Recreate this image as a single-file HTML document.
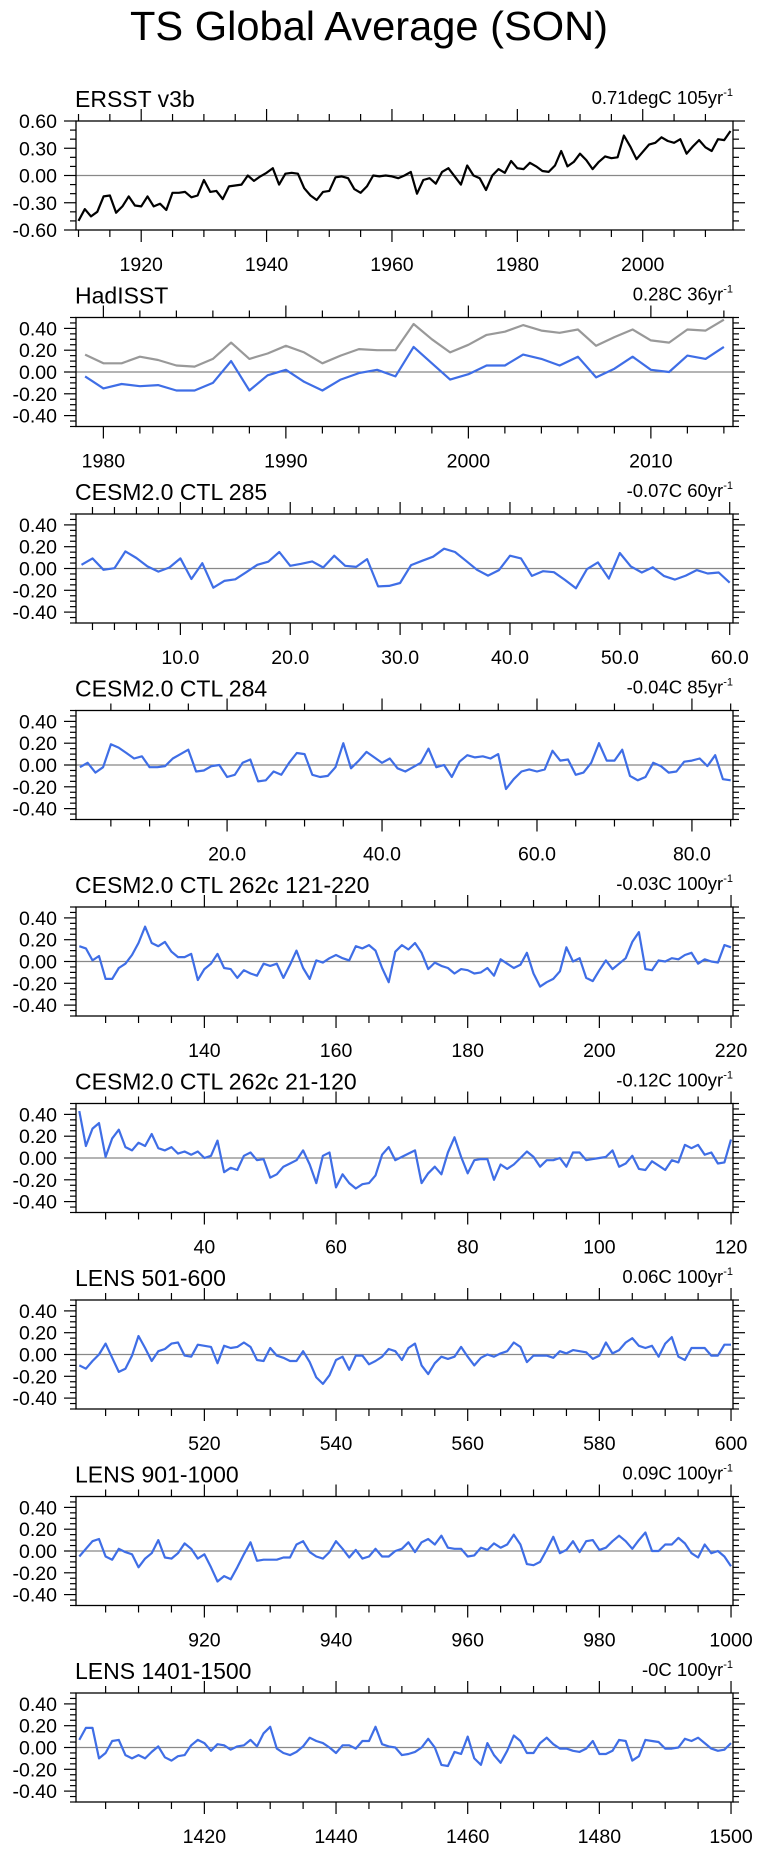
<!DOCTYPE html>
<html><head><meta charset="utf-8"><title>TS Global Average (SON)</title>
<style>
html,body{margin:0;padding:0;background:#fff;}
svg{display:block;font-family:"Liberation Sans",sans-serif;}
</style></head>
<body>
<svg id="chart" width="759" height="1852" viewBox="0 0 759 1852" xmlns="http://www.w3.org/2000/svg">
<text x="130" y="40" font-size="41" textLength="478" lengthAdjust="spacingAndGlyphs">TS Global Average (SON)</text>
</svg>
<script>
const ersstVals=[-.50,-.37,-.45,-.40,-.23,-.22,-.41,-.34,-.23,-.33,-.34,-.23,-.34,-.31,-.38,-.19,-.19,-.18,-.24,-.22,-.05,-.18,-.17,-.26,-.12,-.11,-.10,0,-.06,-.01,.03,.08,-.10,.02,.03,.02,-.14,-.22,-.27,-.18,-.17,-.02,-.01,-.03,-.15,-.19,-.12,0,-.01,0,-.01,-.03,0,.04,-.20,-.05,-.03,-.09,.04,.08,-.01,-.10,.11,0,-.03,-.16,0,.07,.03,.16,.08,.07,.14,.10,.05,.04,.11,.27,.10,.15,.24,.17,.07,.15,.21,.19,.20,.44,.32,.18,.26,.34,.36,.42,.38,.36,.40,.24,.32,.39,.31,.27,.40,.39,.49];
const hadGray=[.16,.08,.08,.14,.11,.06,.05,.12,.27,.12,.17,.24,.18,.08,.15,.21,.20,.20,.44,.30,.18,.25,.34,.37,.43,.38,.36,.39,.24,.32,.39,.29,.27,.39,.38,.48];
const hadBlue=[-.04,-.15,-.11,-.13,-.12,-.17,-.17,-.10,.10,-.17,-.03,.02,-.09,-.17,-.07,-.01,.02,-.04,.23,.08,-.07,-.02,.06,.06,.16,.12,.06,.14,-.05,.03,.14,.02,0,.15,.12,.23];
const ctl285=[.034,.093,-.012,.003,.157,.096,.019,-.028,.009,.093,-.096,.049,-.176,-.114,-.099,-.034,.034,.062,.151,.025,.043,.065,.009,.117,.025,.015,.086,-.164,-.160,-.133,.031,.071,.108,.182,.151,.071,-.012,-.065,-.015,.117,.093,-.068,-.025,-.034,-.105,-.182,-.006,.056,-.093,.142,.019,-.037,.012,-.068,-.102,-.065,-.015,-.046,-.037,-.130];
const ctl284=[-.02,.02,-.07,-.02,.19,.16,.11,.06,.08,-.02,-.02,-.01,.06,.10,.14,-.06,-.05,-.01,0,-.11,-.09,.02,.05,-.15,-.14,-.06,-.09,.02,.11,.10,-.09,-.11,-.10,-.02,.20,-.03,.04,.12,.07,.02,.06,-.03,-.06,-.02,.02,.15,-.02,0,-.11,.03,.09,.07,.08,.06,.10,-.22,-.13,-.06,-.04,-.06,-.04,.13,.04,.05,-.09,-.07,.02,.20,.04,.04,.14,-.10,-.14,-.11,.02,-.01,-.07,-.06,.03,.04,.06,-.01,.09,-.13,-.14];
const ctl262a=[.14,.12,.01,.05,-.16,-.16,-.06,-.02,.06,.17,.32,.17,.14,.18,.09,.04,.04,.07,-.17,-.07,-.02,.07,-.06,-.07,-.15,-.08,-.11,-.13,-.02,-.04,-.02,-.15,-.03,.10,-.06,-.16,.01,-.01,.03,.06,.03,.01,.14,.12,.15,.10,-.06,-.19,.09,.15,.11,.17,.08,-.07,-.01,-.04,-.06,-.11,-.07,-.08,-.11,-.10,-.06,-.13,.02,-.02,-.06,-.03,.08,-.11,-.23,-.19,-.16,-.09,.13,0,.03,-.15,-.18,-.08,.01,-.07,-.02,.03,.18,.27,-.07,-.08,.01,0,.03,.02,.06,.08,-.02,.02,0,-.01,.15,.13];
const ctl262b=[.43,.11,.27,.32,.01,.18,.26,.10,.07,.14,.11,.22,.09,.07,.10,.04,.06,.03,.06,0,.02,.16,-.13,-.09,-.11,.02,.05,-.02,-.01,-.18,-.15,-.08,-.05,-.02,.07,-.06,-.23,.02,.05,-.27,-.15,-.23,-.28,-.24,-.23,-.16,.03,.10,-.02,.01,.04,.07,-.23,-.14,-.08,-.15,.05,.19,.01,-.14,-.02,-.01,-.01,-.20,-.06,-.10,-.06,0,.06,.01,-.08,-.02,-.02,0,-.08,.05,.05,-.02,-.01,0,.01,.07,-.08,-.05,.02,-.10,-.11,-.03,-.07,-.11,-.02,-.04,.12,.09,.12,.03,.05,-.05,-.04,.17];
const lens501=[-.10,-.13,-.06,0,.10,-.03,-.16,-.13,-.01,.17,.06,-.06,.03,.05,.10,.11,-.01,-.02,.09,.08,.07,-.08,.08,.06,.07,.11,.07,-.05,-.06,.06,-.01,-.03,-.06,-.06,.03,-.07,-.21,-.27,-.19,-.05,-.02,-.14,-.01,-.01,-.09,-.06,-.02,.05,.03,-.05,.06,.10,-.10,-.18,-.08,-.02,-.04,-.02,.07,-.02,-.10,-.03,0,-.02,.01,.03,.11,.07,-.07,-.01,-.01,-.01,-.03,.03,.01,.04,.03,.02,-.04,-.01,.11,.01,.04,.11,.15,.08,.06,.08,-.02,.10,.16,-.02,-.05,.06,.06,.06,-.01,-.01,.09,.09];
const lens901=[-.05,.02,.09,.11,-.05,-.08,.02,-.01,-.03,-.15,-.07,-.02,.10,-.06,-.07,-.02,.07,.02,-.07,-.03,-.15,-.28,-.23,-.26,-.15,-.03,.08,-.09,-.08,-.08,-.08,-.06,-.06,.06,.09,-.01,-.05,-.07,-.01,.09,.02,-.06,.01,-.07,-.05,.02,-.05,-.05,0,.02,.08,-.01,.08,.11,.06,.14,.03,.02,.02,-.05,-.04,.03,.01,.07,.03,.06,.15,.06,-.12,-.13,-.10,.01,.13,-.02,.01,.09,-.01,.09,.10,.01,.03,.09,.14,.09,.02,.10,.17,0,0,.06,.06,.12,.07,-.02,-.06,.06,-.02,0,-.05,-.14];
const lens1401=[.07,.18,.18,-.10,-.05,.06,.07,-.07,-.10,-.07,-.10,-.04,.01,-.09,-.12,-.08,-.07,.02,.07,.04,-.03,.03,.02,-.02,.01,.02,.07,.01,.13,.19,-.01,-.05,-.07,-.04,.01,.09,.06,.04,0,-.05,.02,.02,-.01,.06,.06,.19,.03,.01,0,-.07,-.06,-.04,0,.08,0,-.16,-.17,-.04,-.06,.10,-.10,-.16,.04,-.07,-.14,-.03,.11,.06,-.05,-.05,.04,.09,.03,-.01,-.01,-.03,-.04,-.01,.06,-.06,-.06,-.03,.07,.06,-.12,-.08,.07,.06,.05,-.01,-.01,0,.08,.06,.09,.04,-.01,-.03,-.02,.04];

const panelTitles=["ERSST v3b","HadISST","CESM2.0 CTL 285","CESM2.0 CTL 284","CESM2.0 CTL 262c 121-220","CESM2.0 CTL 262c 21-120","LENS 501-600","LENS 901-1000","LENS 1401-1500"];
const panelTrends=["0.71degC 105yr","0.28C 36yr","-0.07C 60yr","-0.04C 85yr","-0.03C 100yr","-0.12C 100yr","0.06C 100yr","0.09C 100yr","-0C 100yr"];
const panelStarts=[1910,1979,1,1,121,21,501,901,1401];

const NS="http://www.w3.org/2000/svg";
const svg=document.getElementById('chart');
function mk(tag,attrs,parent){const e=document.createElementNS(NS,tag);for(const k in attrs)e.setAttribute(k,attrs[k]);(parent||svg).appendChild(e);return e;}

const cfgs=[
 {series:[{v:ersstVals,c:"#000"}],ymaj:.3,ymin:.1,xmaj:20,xminr:5,xfirst:1920,xdec:0,pad:[.4,.4]},
 {series:[{v:hadGray,c:"#999"},{v:hadBlue,c:"#3f6ee6"}],ymaj:.2,ymin:.05,xmaj:10,xminr:2,xfirst:1980,xdec:0,pad:[.5,.5]},
 {series:[{v:ctl285,c:"#3f6ee6"}],ymaj:.2,ymin:.05,xmaj:10,xminr:2,xfirst:10,xdec:1,pad:[.5,.3]},
 {series:[{v:ctl284,c:"#3f6ee6"}],ymaj:.2,ymin:.05,xmaj:20,xminr:5,xfirst:20,xdec:1,pad:[.5,.3]},
 {series:[{v:ctl262a,c:"#3f6ee6"}],ymaj:.2,ymin:.05,xmaj:20,xminr:5,xfirst:140,xdec:0,pad:[.5,.3]},
 {series:[{v:ctl262b,c:"#3f6ee6"}],ymaj:.2,ymin:.05,xmaj:20,xminr:5,xfirst:40,xdec:0,pad:[.5,.3]},
 {series:[{v:lens501,c:"#3f6ee6"}],ymaj:.2,ymin:.05,xmaj:20,xminr:5,xfirst:520,xdec:0,pad:[.5,.3]},
 {series:[{v:lens901,c:"#3f6ee6"}],ymaj:.2,ymin:.05,xmaj:20,xminr:5,xfirst:920,xdec:0,pad:[.5,.3]},
 {series:[{v:lens1401,c:"#3f6ee6"}],ymaj:.2,ymin:.05,xmaj:20,xminr:5,xfirst:1420,xdec:0,pad:[.5,.3]}
];

const L=76,R=733,H=109;
cfgs.forEach((c,k)=>{
  const top=121+196.5*k, bot=top+H;
  const g=mk('g',{});
  
  
  const n=c.series[0].v.length, x0=panelStarts[k];
  const xlo=x0-c.pad[0], xhi=x0+n-1+c.pad[1];
  const X=v=>L+(v-xlo)/(xhi-xlo)*(R-L);
  const ylim=(k===0)?.6:.5;
  const Y=v=>top+(ylim-v)/(2*ylim)*H;
  const t1=mk('text',{x:L-1,y:top-14,'font-size':23},g);t1.textContent=panelTitles[k];
  
  
  const t2=mk('text',{x:R,y:top-17,'font-size':18.5,'text-anchor':'end'},g);
  
  
  const s1=mk('tspan',{},t2);s1.textContent=panelTrends[k];
  const s2=mk('tspan',{dy:-8,'font-size':11},t2);s2.textContent='-1';
  const z=mk('line',{x1:L,x2:R,y1:Y(0),y2:Y(0),stroke:'#888','stroke-width':1.2},g);
  
  
  const eps=1e-6;
  for(let v=-ylim;v<=ylim+eps;v+=c.ymin){
    const vv=Math.round(v*1000)/1000;
    const isMaj=Math.abs(Math.round(vv/c.ymaj)*c.ymaj-vv)<1e-4;
    const len=isMaj?12:6, y=Y(vv);
    mk('line',{x1:L-len,x2:L,y1:y,y2:y,stroke:'#000','stroke-width':1.2},g);
    mk('line',{x1:R,x2:R+len,y1:y,y2:y,stroke:'#000','stroke-width':1.2},g);
    if(isMaj && (Math.abs(vv)<=ylim-0.05+eps || k===0)){
      const tl=mk('text',{x:57,y:y+7,'font-size':19.5,'text-anchor':'end'},g);
      
      
      tl.textContent=(Math.abs(vv)<eps?0:vv).toFixed(2);
    }
  }
  const startMin=Math.ceil(xlo/c.xminr)*c.xminr;
  for(let v=startMin;v<=xhi+eps;v+=c.xminr){
    const isMaj=(v-c.xfirst)%c.xmaj===0 && v>=c.xfirst;
    const len=isMaj?12:7, x=X(v);
    mk('line',{x1:x,x2:x,y1:top-len,y2:top,stroke:'#000','stroke-width':1.2},g);
    mk('line',{x1:x,x2:x,y1:bot,y2:bot+len,stroke:'#000','stroke-width':1.2},g);
    if(isMaj){
      const tl=mk('text',{x:x,y:bot+41,'font-size':19.5,'text-anchor':'middle'},g);
      
      
      tl.textContent=v.toFixed(c.xdec);
    }
  }
  c.series.forEach((s)=>{
    const pts=s.v.map((v,i)=>X(x0+i).toFixed(1)+','+Y(v).toFixed(1)).join(' ');
    const pl=mk('polyline',{points:pts,fill:'none',stroke:s.c,'stroke-width':2.2,'stroke-linejoin':'round'},g);
    
    
  });
  const bx=mk('rect',{x:L,y:top,width:R-L,height:H,fill:'none',stroke:'#000','stroke-width':1.3},g);
  
  
});
</script>
</body></html>
